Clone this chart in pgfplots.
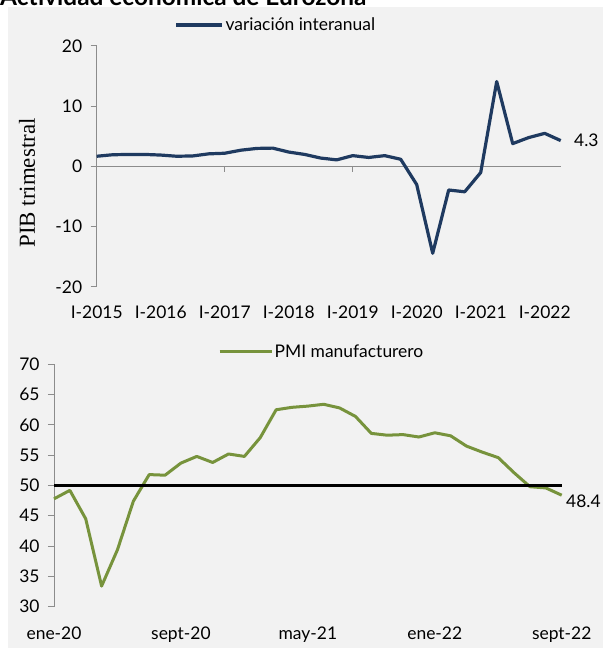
\documentclass[border=0pt]{standalone}
\usepackage{pgfplots}
\usepackage{pgfplotstable}
\pgfplotsset{compat=1.18}
\usepackage{fontspec}
\setmainfont{Lato}
\newfontfamily\seriffont{Liberation Serif}
\definecolor{bgc}{HTML}{F2F2F2}
\definecolor{pibblue}{HTML}{1F3A60}
\definecolor{pmigreen}{HTML}{77933C}
\definecolor{axgray}{HTML}{8C8C8C}

% PIB trimestral, variacion interanual (I-2015 .. II-2022)
\pgfplotstableread{
q val
0 1.7
1 1.95
2 2.0
3 2.0
4 1.9
5 1.7
6 1.75
7 2.1
8 2.2
9 2.7
10 3.0
11 3.05
12 2.4
13 2.0
14 1.4
15 1.1
16 1.8
17 1.5
18 1.8
19 1.2
20 -3.0
21 -14.4
22 -3.9
23 -4.2
24 -1.0
25 14.1
26 3.8
27 4.8
28 5.5
29 4.3
}\pibdata

% PMI manufacturero (ene-20 .. sept-22)
\pgfplotstableread{
m val
0 47.8
1 49.2
2 44.5
3 33.4
4 39.4
5 47.4
6 51.8
7 51.7
8 53.7
9 54.8
10 53.8
11 55.2
12 54.8
13 57.9
14 62.5
15 62.9
16 63.1
17 63.4
18 62.8
19 61.4
20 58.6
21 58.3
22 58.4
23 58.0
24 58.7
25 58.2
26 56.5
27 55.5
28 54.6
29 52.1
30 49.8
31 49.6
32 48.4
}\pmidata

\newcommand\lblfont{\fontsize{17.5}{20}\selectfont}

\pgfplotsset{
  panel/.style={
    scale only axis, anchor=south west, clip=false,
    axis lines*=left,
    x axis line style={draw=none},
    xtick style={draw=none},
    y axis line style={axgray, line width=1pt},
    ytick style={axgray, line width=1pt},
    tick align=outside, major tick length=6bp,
    tick label style={font=\lblfont},
    yticklabel style={xshift=-5bp},
    legend style={draw=none, fill=none, inner sep=0pt,
      nodes={inner xsep=1.5bp},
      font=\lblfont, anchor=west},
  },
}

\begin{document}
\begin{tikzpicture}
\fill[bgc] (8bp,0bp) rectangle (603bp,641bp);
\node[anchor=base west, inner sep=0pt, font=\bfseries\fontsize{24.5}{28}\selectfont] at (0bp,642bp) {Actividad económica de Eurozona};

\begin{axis}[panel,
  at={(96.7bp,361bp)}, width=464bp, height=241bp,
  xmin=0, xmax=29, ymin=-20, ymax=20,
  ytick={-20,-10,0,10,20}, yticklabels={-20,-10,0,10,20},
  xtick={0,4,...,28},
  xticklabels={I-2015,I-2016,I-2017,I-2018,I-2019,I-2020,I-2021,I-2022},
  xticklabel style={yshift=-9bp},
  legend style={at={(0.168,1.087)}},
  legend image code/.code={\draw[#1] (0bp,0bp) -- (46bp,0bp);},
]
\addplot[axgray, line width=1.2pt, forget plot] coordinates {(0,0) (29,0)};
\pgfplotsinvokeforeach{0,8,16,24}{
  \draw[axgray, line width=1pt] (axis cs:#1,0) -- ++(0bp,-6bp);
}
\addplot[pibblue, line width=3.2bp, line join=round] table[x=q,y=val]{\pibdata};
\addlegendentry{variación interanual}
\node[anchor=west, xshift=10bp, font=\lblfont] at (axis cs:29,4.3) {4.3};
\end{axis}

\node[rotate=90, font=\seriffont\fontsize{23}{26}\selectfont] at (27bp,465bp) {PIB trimestral};

\begin{axis}[panel,
  at={(54bp,41.3bp)}, width=507.7bp, height=242.4bp,
  xmin=0, xmax=32, ymin=30, ymax=70,
  ytick={30,35,...,70},
  yticklabels={30,35,40,45,50,55,60,65,70},
  xtick={0,8,16,24,32},
  xticklabels={ene-20,sept-20,may-21,ene-22,sept-22},
  xticklabel style={yshift=-11bp},
  legend style={at={(0.323,1.051)}},
  legend image code/.code={\draw[#1] (0bp,0bp) -- (52bp,0bp);},
]
\addplot[pmigreen, line width=3bp, line join=round] table[x=m,y=val]{\pmidata};
\addlegendentry{PMI manufacturero}
\addplot[black, line width=3bp, forget plot] coordinates {(0,50) (32,50)};
\node[anchor=west, xshift=1bp, font=\lblfont] at (axis cs:32,47.4) {48.4};
\end{axis}

\pgfresetboundingbox
\path[use as bounding box] (0bp,0bp) rectangle (603bp,648bp);
\end{tikzpicture}
\end{document}
